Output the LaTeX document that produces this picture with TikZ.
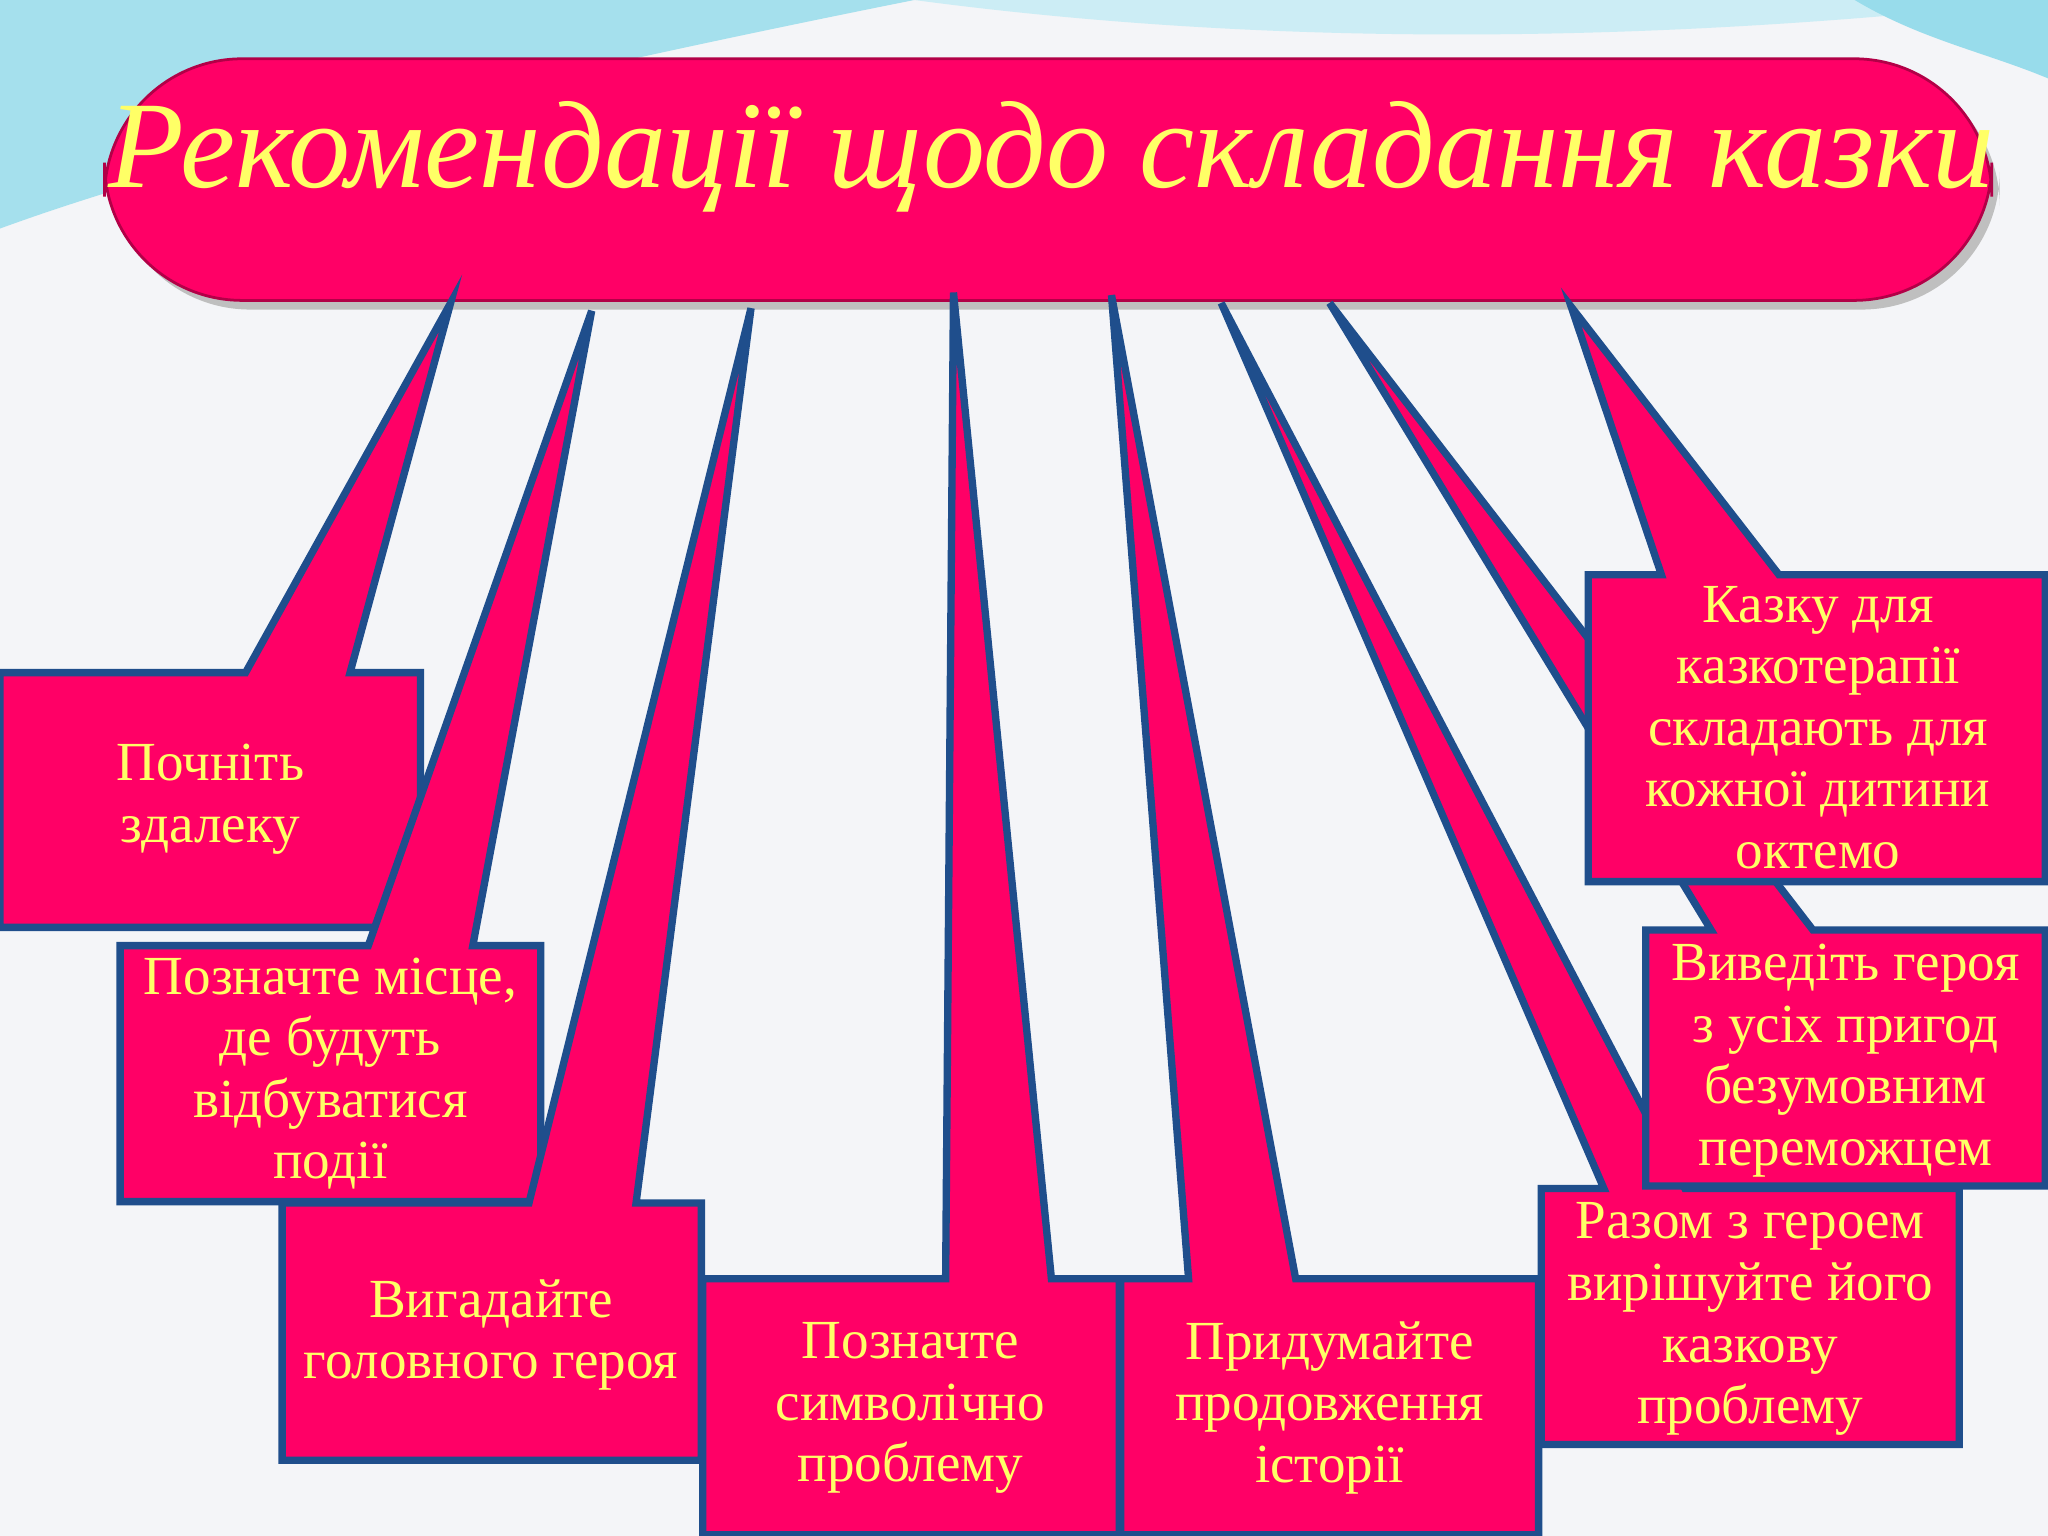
\documentclass[tikz,border=0pt]{standalone}
\usepackage{fontspec}
\setmainfont{Liberation Serif}
\definecolor{pk}{HTML}{FF0066}
\definecolor{bd}{HTML}{1F4E8C}
\definecolor{yl}{HTML}{FFFF66}
\definecolor{bg}{HTML}{F4F5F8}
\definecolor{cy}{HTML}{7FD3E6}
\begin{document}
\begin{tikzpicture}[x=0.01cm,y=-0.01cm,
  co/.style={fill=pk,draw=bd,line width=1.6pt,line join=miter},
  tx/.style={text=yl,align=center,font=\fontsize{12}{13.4}\selectfont}]
\useasboundingbox (0,0) rectangle (1568,1176);
\fill[bg] (0,0) rectangle (1568,1176);
\fill[cy!70] (0,0) -- (700,0) .. controls (400,60) and (150,120) .. (0,175) -- cycle;
\fill[cy!40] (700,0) .. controls (1000,40) and (1300,30) .. (1568,0) -- cycle;
\fill[cy!80] (1420,0) -- (1568,0) -- (1568,60) .. controls (1520,40) and (1470,30) .. (1420,0) -- cycle;
% title
\fill[black!25,rounded corners=30pt] (86,52) rectangle (1531,237);
\draw[fill=pk,draw=pk!70!black,line width=0.6pt,rounded corners=30pt] (80,45) rectangle (1525,230);
\node[text=yl,font=\fontsize{27}{30}\itshape] (title) at (805,120) {Рекомендації щодо складання казки};
% 1
\draw[co] (0,515)--(188,515)--(345,232)--(268,515)--(322,515)--(322,710)--(0,710)--cycle;
\node[tx] (n1) at (161,612) {Почніть\\здалеку};
% 2
\draw[co] (92,724)--(282,724)--(453,238)--(362,724)--(414,724)--(414,920)--(92,920)--cycle;
\node[tx] (n2) at (253,822) {Позначте місце,\\де будуть\\відбуватися\\події};
% 3
\draw[co] (216,921)--(405,921)--(575,236)--(487,921)--(537,921)--(537,1118)--(216,1118)--cycle;
\node[tx] (n3) at (376,1022) {Вигадайте\\головного героя};
% 4
\draw[co] (538,979)--(724,979)--(730,224)--(805,979)--(857,979)--(857,1175)--(538,1175)--cycle;
\node[tx] (n4) at (697,1078) {Позначте\\символічно\\проблему};
% 5
\draw[co] (858,979)--(910,979)--(851,226)--(992,979)--(1178,979)--(1178,1175)--(858,1175)--cycle;
\node[tx] (n5) at (1018,1078) {Придумайте\\продовження\\історії};
% 6
\draw[co] (1180,910)--(1228,910)--(935,232)--(1290,910)--(1500,910)--(1500,1106)--(1180,1106)--cycle;
\node[tx] (n6) at (1340,1010) {Разом з героем\\вирішуйте його\\казкову\\проблему};
% 7
\draw[co] (1260,712)--(1310,712)--(1018,232)--(1388,712)--(1566,712)--(1566,908)--(1260,908)--cycle;
\node[tx] (n7) at (1413,812) {Виведіть героя\\з усіх пригод\\безумовним\\переможцем};
% 8
\draw[co] (1216,440)--(1272,440)--(1203,235)--(1362,440)--(1566,440)--(1566,675)--(1216,675)--cycle;
\node[tx] (n8) at (1392,557) {Казку для\\казкотерапії\\складають для\\кожної дитини\\октемо};
\end{tikzpicture}
\end{document}
